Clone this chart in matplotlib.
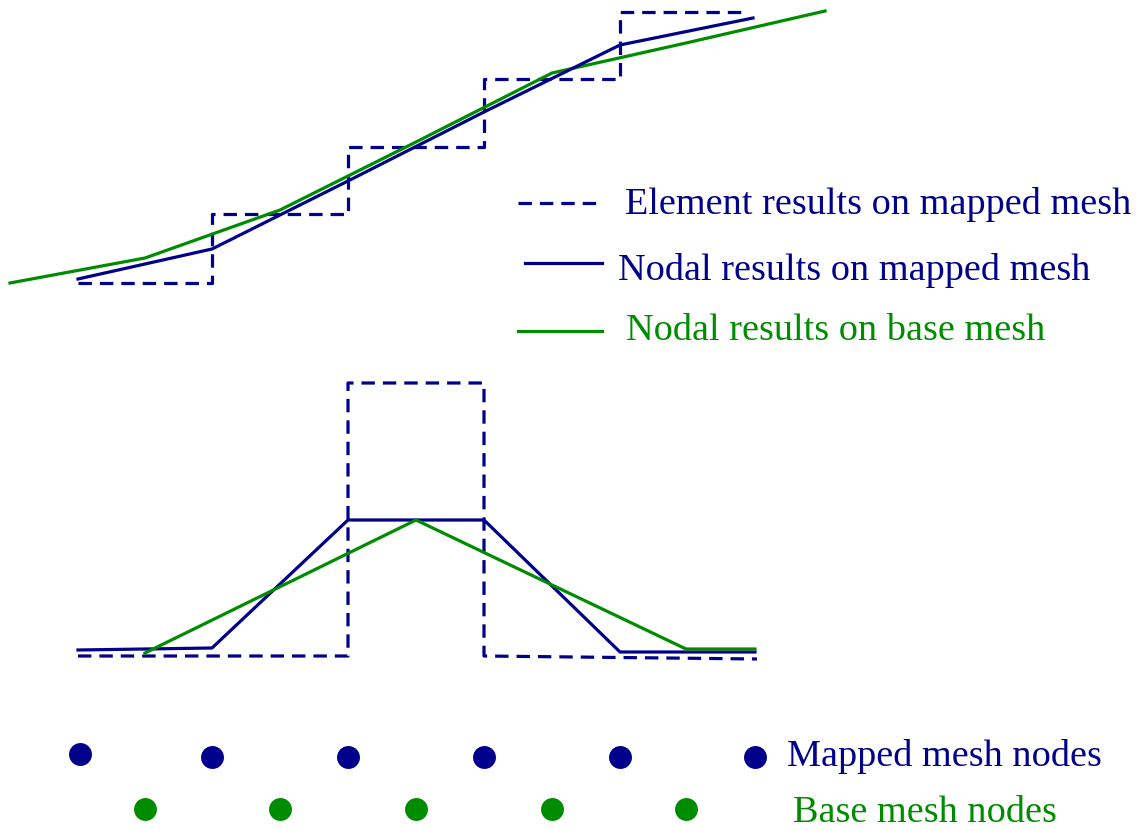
import matplotlib
matplotlib.use("Agg")
import matplotlib.pyplot as plt

BLUE = '#00008b'
GREEN = '#008c00'

# top sketch: smoothly rising field (pixel-like coordinates, y grows downward)
top_elem_x = [78, 212, 212, 348, 348, 484, 484, 620, 620, 745]
top_elem_y = [283, 283, 214, 214, 147, 147, 79, 79, 12, 12]
top_mapped_x = [78, 212, 348, 484, 620, 753]
top_mapped_y = [279, 249, 181, 112, 45, 18]
top_base_x = [10, 145, 280, 416, 552, 686, 825]
top_base_y = [283, 258, 210, 142, 73, 43, 11]

# bottom sketch: peak in a single element
bot_elem_x = [78, 348, 348, 484, 484, 757]
bot_elem_y = [656, 656, 383, 383, 656, 659]
bot_mapped_x = [78, 212, 348, 484, 620, 755]
bot_mapped_y = [650, 648, 520, 520, 652, 652]
bot_base_x = [145, 416, 686, 755]
bot_base_y = [653, 520, 649, 649]

# mesh nodes
mapped_nodes_x = [80, 212, 348, 484, 620, 755]
mapped_nodes_y = [754, 757, 757, 757, 757, 757]
base_nodes_x = [145, 280, 416, 552, 686]
base_nodes_y = [809, 809, 809, 809, 809]

legend_labels = ["Element results on mapped mesh",
                 "Nodal results on mapped mesh",
                 "Nodal results on base mesh"]
node_labels = ["Mapped mesh nodes", "Base mesh nodes"]

fig = plt.figure(figsize=(11.38, 8.31), dpi=100)
ax = fig.add_axes([0, 0, 1, 1])
ax.set_xlim(0, 1138)
ax.set_ylim(831, 0)
ax.axis('off')

dash = (4.2, 2.5)
lw = 2.3

ax.plot(top_elem_x, top_elem_y, color=BLUE, lw=lw, dashes=dash)
ax.plot(top_base_x, top_base_y, color=GREEN, lw=lw)
ax.plot(top_mapped_x, top_mapped_y, color=BLUE, lw=lw)

ax.plot(bot_elem_x, bot_elem_y, color=BLUE, lw=lw, dashes=dash)
ax.plot(bot_mapped_x, bot_mapped_y, color=BLUE, lw=lw)
ax.plot(bot_base_x, bot_base_y, color=GREEN, lw=lw)

ax.plot(mapped_nodes_x, mapped_nodes_y, 'o', color=BLUE, ms=16.5, mec='none')
ax.plot(base_nodes_x, base_nodes_y, 'o', color=GREEN, ms=16.5, mec='none')

# legend samples
ax.plot([518, 597], [203, 203], color=BLUE, lw=lw, dashes=dash)
ax.plot([525, 602], [263, 263], color=BLUE, lw=lw)
ax.plot([518, 602], [331, 331], color=GREEN, lw=lw)

font = dict(family='Liberation Serif', fontsize=27.5, va='center', ha='left')
ax.text(625, 204, legend_labels[0], color=BLUE, **font)
ax.text(618, 270, legend_labels[1], color=BLUE, **font)
ax.text(626, 331, legend_labels[2], color=GREEN, **font)
ax.text(787, 757, node_labels[0], color=BLUE, **font)
ax.text(793, 813, node_labels[1], color=GREEN, **font)

fig.savefig("out.png", dpi=100)
